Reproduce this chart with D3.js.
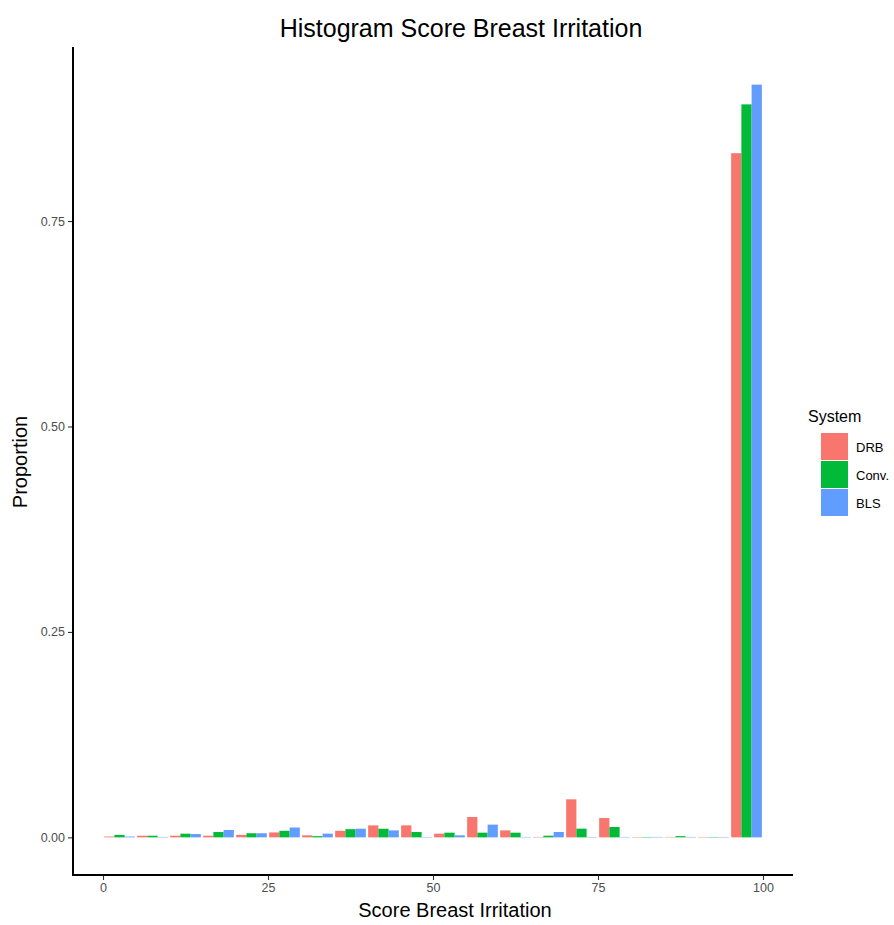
<!DOCTYPE html>
<html><head><meta charset="utf-8">
<script src="https://cdn.jsdelivr.net/npm/d3@7"></script>
<style>body{margin:0;background:#fff;} text{font-family:"Liberation Sans",Arial,sans-serif;}</style>
</head><body>
<svg id="c" width="894" height="925"></svg>
<script>
const binStarts = [0,5,10,15,20,25,30,35,40,45,50,55,60,65,70,75,80,85,90,95];
const binWidth = 5;
const seriesNames = ["DRB","Conv.","BLS"];
const seriesColors = ["#F8766D","#00BA38","#619CFF"];
const drb  = [0.001,0.002,0.002,0.002,0.003,0.006,0.0025,0.008,0.0146,0.0146,0.0045,0.0248,0.0085,0.0005,0.0463,0.0235,0.0005,0.0005,0.0005,0.8326];
const conv = [0.003,0.002,0.0045,0.0065,0.005,0.008,0.0015,0.010,0.0105,0.0065,0.0057,0.0057,0.0057,0.002,0.0106,0.0126,0.0005,0.0015,0.0005,0.892];
const bls  = [0.001,0.0005,0.004,0.009,0.005,0.012,0.0045,0.0105,0.0085,0.0005,0.0025,0.0155,0.0005,0.0065,0.0005,0.0005,0.0005,0.0005,0.0005,0.916];
const xTicks = [0,25,50,75,100];
const yTicks = [0,0.25,0.5,0.75];

(function(){
const series = [drb, conv, bls];
const svg = d3.select("#c");
const pLeft = 73, pRight = 793, pTop = 47, pBottom = 875;

const x = d3.scaleLinear().domain([-5,105]).range([70,796]);
const maxV = d3.max(series.flat());
const y = d3.scaleLinear().domain([-0.05*maxV, maxV*1.05]).range([pBottom, pTop]);

const barW = binWidth*0.93/3;
series.forEach((vals, si) => {
  svg.append("g").selectAll("rect").data(vals).join("rect")
    .attr("x", (d,i) => x(binStarts[i] + binWidth/2 - 1.5*barW + si*barW))
    .attr("width", x(barW) - x(0))
    .attr("y", d => y(d))
    .attr("height", d => y(0) - y(d))
    .attr("fill", seriesColors[si]);
});

const xAxis = svg.append("g").attr("transform",`translate(0,${pBottom})`)
  .call(d3.axisBottom(x).tickValues(xTicks).tickFormat(d3.format("d")).tickSize(5).tickSizeOuter(0));
const yAxis = svg.append("g").attr("transform",`translate(${pLeft},0)`)
  .call(d3.axisLeft(y).tickValues(yTicks).tickFormat(d3.format(".2f")).tickSize(5).tickSizeOuter(0));
[xAxis,yAxis].forEach(a=>{
  a.select(".domain").remove();
  a.selectAll(".tick line").attr("stroke","#333").attr("stroke-width",1.1);
  a.selectAll(".tick text").attr("fill","#4d4d4d").style("font-size","12.5px");
});
xAxis.selectAll(".tick text").attr("dy","0.75em");
yAxis.selectAll(".tick text").attr("x",-8);
svg.append("line").attr("x1",pLeft).attr("x2",pLeft).attr("y1",pTop).attr("y2",pBottom+1).attr("stroke","#000").attr("stroke-width",2);
svg.append("line").attr("x1",pLeft-1).attr("x2",pRight).attr("y1",pBottom).attr("y2",pBottom).attr("stroke","#000").attr("stroke-width",2);

svg.append("text").attr("x",461).attr("y",37).attr("text-anchor","middle").style("font-size","25px").attr("fill","#000").text("Histogram Score Breast Irritation");
svg.append("text").attr("x",455).attr("y",917).attr("text-anchor","middle").style("font-size","20px").attr("fill","#000").text("Score Breast Irritation");
svg.append("text").attr("transform","translate(27,462) rotate(-90)").attr("text-anchor","middle").style("font-size","20px").attr("fill","#000").text("Proportion");

const lg = svg.append("g");
lg.append("text").attr("x",808).attr("y",422).style("font-size","16px").attr("fill","#000").text("System");
seriesNames.forEach((n,i)=>{
  lg.append("rect").attr("x",821).attr("y",433+i*28).attr("width",27).attr("height",27).attr("fill",seriesColors[i]);
  lg.append("text").attr("x",856).attr("y",452+i*28).style("font-size","13px").attr("fill","#000").text(n);
});
})();
</script>
</body></html>
